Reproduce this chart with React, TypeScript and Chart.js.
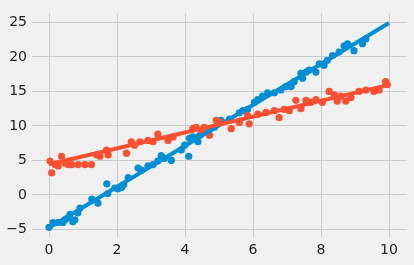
import React, { useEffect, useRef } from "react";
import { Chart, registerables } from "chart.js";

Chart.register(...registerables);

const blueX = [0.0, 0.12, 0.26, 0.41, 0.47, 0.56, 0.62, 0.7, 0.76, 0.85, 0.91, 1.26, 1.44, 1.7, 1.73, 1.94, 2.03, 2.14, 2.2, 2.33, 2.62, 2.72, 2.91, 3.06, 3.2, 3.3, 3.4, 3.6, 3.89, 3.99, 4.11, 4.13, 4.23, 4.38, 4.43, 4.52, 4.72, 4.87, 5.06, 5.31, 5.6, 5.7, 5.84, 6.04, 6.14, 6.28, 6.43, 6.63, 6.82, 6.97, 7.12, 7.21, 7.41, 7.46, 7.56, 7.65, 7.85, 7.95, 8.09, 8.19, 8.34, 8.53, 8.68, 8.78, 8.97, 9.22, 9.32];
const blueY = [-4.7, -4.0, -4.0, -4.0, -3.6, -3.3, -2.8, -3.9, -3.6, -2.6, -1.9, -0.6, -1.2, 1.6, 0.2, 1.0, 0.9, 1.1, 1.5, 2.5, 3.9, 3.6, 4.2, 4.4, 4.9, 5.7, 5.3, 5.0, 6.5, 7.2, 5.6, 8.2, 8.4, 7.7, 8.6, 9.1, 9.6, 9.8, 10.8, 11.0, 11.9, 12.2, 12.4, 13.4, 13.8, 14.3, 14.8, 14.8, 15.2, 15.7, 15.7, 16.4, 17.6, 16.9, 17.8, 18.1, 17.8, 19.0, 18.8, 19.5, 20.2, 20.7, 21.6, 21.9, 20.9, 21.9, 22.6];

const redX = [0.03, 0.08, 0.18, 0.27, 0.37, 0.47, 0.57, 0.67, 0.86, 1.06, 1.25, 1.4, 1.5, 1.69, 1.74, 2.28, 2.42, 2.52, 2.67, 2.91, 3.06, 3.2, 3.5, 3.65, 4.23, 4.33, 4.48, 4.57, 4.72, 4.92, 5.06, 5.36, 5.6, 5.84, 5.89, 6.14, 6.38, 6.63, 6.77, 6.92, 7.07, 7.26, 7.41, 7.56, 7.7, 7.85, 8.04, 8.24, 8.39, 8.48, 8.58, 8.73, 8.88, 9.12, 9.32, 9.56, 9.71, 9.9, 9.95];
const redY = [4.9, 3.2, 4.4, 4.2, 5.6, 4.6, 4.4, 4.4, 4.4, 4.4, 4.4, 5.8, 5.6, 6.5, 5.8, 6.05, 7.7, 7.2, 7.7, 7.9, 7.7, 8.8, 7.9, 8.4, 9.6, 9.8, 9.4, 9.8, 8.65, 10.8, 10.5, 9.6, 10.5, 11.5, 10.3, 11.7, 11.95, 12.2, 11.2, 12.4, 12.2, 13.7, 12.5, 13.7, 13.4, 13.8, 13.4, 15.0, 14.5, 13.6, 14.3, 13.6, 14.1, 15.0, 15.2, 15.0, 15.2, 16.4, 16.0];

const fitX = [0, 10];
const blueFitY = [-4.75, 24.9];
const redFitY = [4.45, 15.95];

const xTicks = [0, 2, 4, 6, 8, 10];
const yTicks = [-5, 0, 5, 10, 15, 20, 25];

const BLUE = "#008fd5";
const RED = "#fc4f30";

const pts = (xs: number[], ys: number[]) => xs.map((x, i) => ({ x, y: ys[i] }));

export default function App() {
  const ref = useRef<HTMLCanvasElement>(null);
  useEffect(() => {
    document.body.style.margin = "0";
    const ctx = ref.current!;
    const font = { family: "'DejaVu Sans', sans-serif", size: 14 };
    const chart = new Chart(ctx, {
      type: "scatter",
      data: {
        datasets: [
          { type: "scatter", data: pts(blueX, blueY), backgroundColor: BLUE, borderWidth: 0, pointRadius: 3.6, order: 4 },
          { type: "scatter", data: pts(redX, redY), backgroundColor: RED, borderWidth: 0, pointRadius: 3.6, order: 3 },
          { type: "line", data: pts(fitX, blueFitY), borderColor: BLUE, borderWidth: 4, pointRadius: 0, fill: false, order: 2 },
          { type: "line", data: pts(fitX, redFitY), borderColor: RED, borderWidth: 4, pointRadius: 0, fill: false, order: 1 },
        ] as any,
      },
      options: {
        responsive: false,
        devicePixelRatio: 1,
        animation: false,
        layout: { padding: { left: 0, right: 8, top: 9, bottom: 0 } },
        plugins: { legend: { display: false }, tooltip: { enabled: false } },
        scales: {
          x: {
            type: "linear",
            min: -0.5,
            max: 10.5,
            afterBuildTicks: (s: any) => { s.ticks = xTicks.map((v) => ({ value: v })); },
            afterFit: (s: any) => { s.height = 28; },
            grid: { color: "#cbcbcb", lineWidth: 1, drawTicks: false },
            border: { display: false },
            ticks: { color: "#222", font, padding: 5, maxRotation: 0 },
          },
          y: {
            type: "linear",
            min: -6.1,
            max: 26.3,
            afterBuildTicks: (s: any) => { s.ticks = yTicks.map((v) => ({ value: v })); },
            afterFit: (s: any) => { s.width = 32; },
            grid: { color: "#cbcbcb", lineWidth: 1, drawTicks: false },
            border: { display: false },
            ticks: {
              color: "#222",
              font,
              padding: 5,
              callback: (v: any) => String(v).replace("-", "\u2212"),
            },
          },
        },
      },
    });
    return () => chart.destroy();
  }, []);
  return (
    <div style={{ width: 414, height: 265, background: "#f0f0f0" }}>
      <canvas ref={ref} width={414} height={265} style={{ display: "block" }} />
    </div>
  );
}
